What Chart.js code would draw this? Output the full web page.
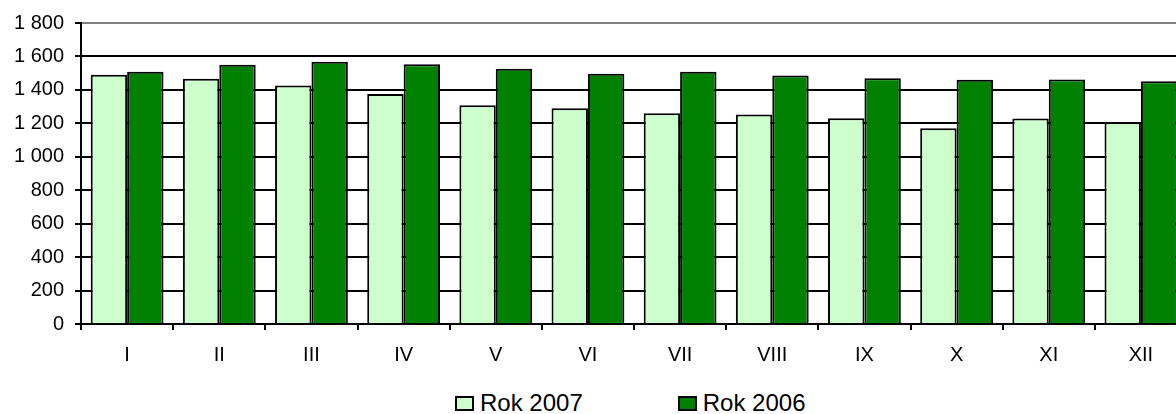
<!DOCTYPE html>
<html>
<head>
<meta charset="utf-8">
<script src="https://cdn.jsdelivr.net/npm/chart.js@4/dist/chart.umd.min.js"></script>
<style>
  html, body { margin: 0; padding: 0; background: #fff; overflow: hidden; }
  #wrap { position: relative; width: 1194px; height: 414px; }
  #chartBox { position: absolute; left: 0; top: 0; width: 1194px; height: 382px; }
  #legend {
    position: absolute; left: 455px; top: 389px;
    display: flex; align-items: center;
    font-family: "Liberation Sans", Arial, sans-serif; font-size: 24px; color: #000;
  }
  .item { display: flex; align-items: center; margin-right: 95px; }
  .swatch { width: 15px; height: 11px; border: 2px solid #000; margin-right: 6px; }
</style>
</head>
<body>
<div id="wrap">
  <div id="chartBox"><canvas id="chart"></canvas></div>
  <div id="legend"></div>
</div>
<script>
const months = ["I", "II", "III", "IV", "V", "VI", "VII", "VIII", "IX", "X", "XI", "XII"];
const rok2007 = [1491, 1466, 1426, 1376, 1308, 1290, 1261, 1253, 1231, 1171, 1229, 1206];
const rok2006 = [1509, 1551, 1569, 1553, 1527, 1496, 1508, 1486, 1470, 1460, 1462, 1452];
const seriesNames = ["Rok 2007", "Rok 2006"];
const seriesColors = ["#CCFFCC", "#008000"];

const font = "'Liberation Sans', Arial, sans-serif";

// 1 800 style thousands separator
function fmt(v) {
  return String(v).replace(/\B(?=(\d{3})+(?!\d))/g, " ");
}

const ctx = document.getElementById("chart").getContext("2d");
const chart = new Chart(ctx, {
  type: "bar",
  data: {
    labels: months,
    datasets: [rok2007, rok2006].map((vals, i) => ({
      label: seriesNames[i],
      data: vals,
      backgroundColor: seriesColors[i],
      borderColor: "#000",
      borderWidth: 2,
      barPercentage: 1,
      categoryPercentage: 0.79
    }))
  },
  options: {
    responsive: true,
    maintainAspectRatio: false,
    animation: false,
    layout: { padding: { left: 3, right: 7, top: 14, bottom: 2 } },
    plugins: {
      legend: { display: false },
      tooltip: { enabled: false }
    },
    scales: {
      x: {
        offset: true,
        grid: {
          offset: true,
          drawOnChartArea: false,
          color: "#000",
          lineWidth: 2,
          tickLength: 6
        },
        border: { color: "#000", width: 2 },
        ticks: { color: "#000", padding: 13, font: { family: font, size: 20 } }
      },
      y: {
        min: 0,
        max: 1800,
        ticks: {
          stepSize: 200,
          color: "#000",
          padding: 11,
          font: { family: font, size: 20 },
          callback: v => fmt(v)
        },
        grid: {
          color: c => (c.tick && c.tick.value === 1800 ? "#808080" : "#000"),
          tickColor: "#000",
          lineWidth: 2,
          tickLength: 6
        },
        border: { color: "#000", width: 2 }
      }
    }
  }
});

// legend built from the chart's datasets
const legend = document.getElementById("legend");
chart.data.datasets.forEach(ds => {
  const item = document.createElement("div");
  item.className = "item";
  const sw = document.createElement("span");
  sw.className = "swatch";
  sw.style.background = ds.backgroundColor;
  const txt = document.createElement("span");
  txt.textContent = ds.label;
  item.appendChild(sw);
  item.appendChild(txt);
  legend.appendChild(item);
});
</script>
</body>
</html>
